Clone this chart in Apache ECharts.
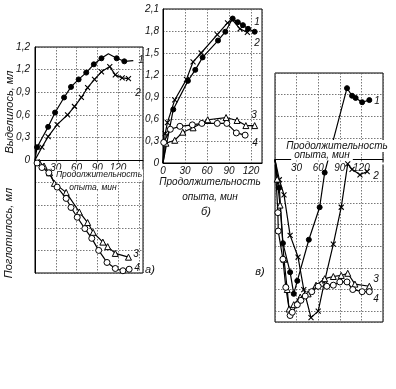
<!DOCTYPE html>
<html><head><meta charset="utf-8">
<script src="https://cdn.jsdelivr.net/npm/echarts@6/dist/echarts.min.js"></script>
<style>html,body{margin:0;padding:0;background:#fff}#c{width:396px;height:389px}</style>
</head><body><div id="c"></div>
<script>
// ---- tick labels ----
const aTimeTicks = [30, 60, 90, 120];
const bTimeTicks = [0, 30, 60, 90, 120];
const cTimeTicks = [30, 60, 90, 120];
const aYTickLabels = ['0', '0,3', '0,6', '0,9', '1,2', '1,2'];
const bYTickLabels = ['0', '0,3', '0,6', '0,9', '1,2', '1,5', '1,8', '2,1'];

// ---- panel а) : [time, ml] ----
const a1 = [[0,0],[3,0.17],[19,0.44],[29,0.63],[42,0.83],[52,0.97],[63,1.07],[74,1.16],[85,1.27],[96,1.35],[106,1.41],[118,1.35],[129,1.31],[142,1.32]];
const a1Bare = [0, 10, 13];
const a2 = [[0,0],[10,0.17],[19,0.31],[32,0.47],[47,0.6],[57,0.71],[67,0.83],[76,0.96],[86,1.07],[96,1.17],[108,1.24],[116,1.13],[126,1.09],[135,1.08]];
const a2Bare = [0];
const a3 = [[0,0],[6,-0.03],[13,-0.08],[21,-0.17],[28,-0.31],[45,-0.43],[64,-0.69],[76,-0.83],[84,-0.96],[98,-1.09],[105,-1.15],[116,-1.24],[135,-1.29]];
const a3Bare = [0];
const a4 = [[0,0],[3,-0.04],[10,-0.1],[20,-0.17],[32,-0.36],[45,-0.51],[52,-0.63],[61,-0.76],[72,-0.91],[82,-1.04],[92,-1.2],[104,-1.36],[116,-1.44],[127,-1.47],[136,-1.45]];
const a4Bare = [0];

// ---- panel б) ----
const b1 = [[0,0],[14,0.73],[34,1.12],[44,1.27],[54,1.44],[75,1.67],[85,1.79],[95,1.97],[102,1.92],[109,1.88],[116,1.83],[125,1.79]];
const b1Bare = [0];
const b2 = [[0,0],[3,0.4],[6,0.55],[16,0.86],[32,1.14],[41,1.38],[52,1.5],[74,1.75],[88,1.91],[95,1.95],[105,1.83],[115,1.78]];
const b2Bare = [0, 9];
const b3 = [[0,0],[4,0.27],[16,0.31],[27,0.42],[41,0.48],[61,0.59],[86,0.62],[101,0.58],[113,0.51],[125,0.51]];
const b3Bare = [0];
const b4 = [[0,0],[1,0.28],[10,0.46],[23,0.5],[40,0.52],[53,0.54],[74,0.54],[87,0.54],[100,0.41],[112,0.38]];
const b4Bare = [0];

// ---- panel в) : [time, grid units] ----
const c1 = [[0,0],[6,-1.3],[11,-3.86],[21,-5.2],[26,-6.2],[31,-5.6],[47,-3.7],[62,-2.2],[69,-0.6],[100,3.3],[107,2.95],[112,2.85],[121,2.65],[131,2.75]];
const c1Bare = [0];
const c2 = [[0,0],[6,-0.93],[12.5,-1.63],[21,-3.5],[32,-4.5],[40,-6.0],[50,-7.3],[60,-7.0],[69,-5.6],[81,-3.9],[92,-2.2],[101,-0.2],[107,-0.45],[118,-0.7],[128,-0.55]];
const c2Bare = [0];
const c3 = [[0,0],[3,-0.9],[7,-2.1],[12.5,-4.6],[17,-6.0],[19.5,-6.9],[26,-6.7],[35,-6.35],[46,-6.2],[57,-5.8],[69,-5.5],[81,-5.4],[92,-5.35],[101,-5.25],[111,-5.75],[131,-5.85]];
const c3Bare = [0];
const c4 = [[0,0],[4,-2.45],[4.5,-3.3],[11,-4.6],[15,-5.9],[21,-7.2],[24,-7.05],[31,-6.7],[36,-6.5],[42,-6.3],[51,-6.1],[60,-5.85],[72,-5.85],[81,-5.8],[90,-5.65],[100,-5.65],[108,-6.0],[121,-6.1],[131,-6.1]];
const c4Bare = [0];

const FONT = '"Liberation Sans", "DejaVu Sans", sans-serif';
const split = { show: true, lineStyle: { color: '#555', width: 0.8, type: [1.5, 1.5] } };
const lblStyle = { fontStyle: 'italic', fontSize: 10, color: '#111', fontFamily: FONT };

const CROSS = 'path://M0,0L10,10M10,0L0,10';
const marks = {
  dot:   { symbol: 'circle',   size: 5, item: { color: '#000', borderColor: '#000', borderWidth: 1 } },
  cross: { symbol: CROSS,      size: 5, item: { color: '#000', borderColor: '#000', borderWidth: 1.1 } },
  tri:   { symbol: 'triangle', size: 6, item: { color: '#fff', borderColor: '#000', borderWidth: 1 } },
  ring:  { symbol: 'circle',   size: 6, item: { color: '#fff', borderColor: '#000', borderWidth: 1 } }
};

function ser(data, bare, kind, gi) {
  const m = marks[kind];
  return {
    type: 'line', xAxisIndex: gi, yAxisIndex: gi, data: data,
    symbol: (v, p) => bare.includes(p.dataIndex) ? 'none' : m.symbol,
    symbolSize: m.size, showAllSymbol: true,
    itemStyle: m.item,
    lineStyle: { color: '#000', width: 1.2 },
    emphasis: { disabled: true }, z: 3, animation: false
  };
}

// grids (pixel boxes)
const G = [
  { left: 35, top: 47, width: 108, height: 226 },
  { left: 163, top: 9, width: 99, height: 154 },
  { left: 275, top: 73, width: 108, height: 249 }
];
const yRange = [[-1.5, 1.5], [0, 2.1], [-7.5, 4]];
// distance from bottom of each grid up to its zero line
function zeroOffset(i) {
  const r = yRange[i];
  return -G[i].height * (0 - r[0]) / (r[1] - r[0]);
}

function xAx(gi, max, ticks, labelOpts) {
  return {
    type: 'value', gridIndex: gi, min: 0, max: max, interval: 30,
    position: 'bottom', offset: zeroOffset(gi),
    axisLine: { show: true, onZero: false, lineStyle: { color: '#000', width: 1 } },
    axisTick: { show: false },
    splitLine: split,
    axisLabel: Object.assign({
      show: true, margin: 3, ...lblStyle,
      formatter: v => ticks.includes(v) ? String(v) : ''
    }, labelOpts || {})
  };
}

const chart = echarts.init(document.getElementById('c'), null, { renderer: 'canvas' });
chart.setOption({
  backgroundColor: '#fff',
  animation: false,
  grid: G.map(g => Object.assign({ show: true, borderColor: '#000', borderWidth: 1, backgroundColor: 'transparent' }, g)),
  xAxis: [
    xAx(0, 156, aTimeTicks, { backgroundColor: '#fff', padding: [0, 1] }),
    xAx(1, 135, bTimeTicks),
    xAx(2, 150, cTimeTicks, { backgroundColor: '#fff', padding: [1, 1] })
  ],
  yAxis: [
    { type: 'value', gridIndex: 0, min: yRange[0][0], max: yRange[0][1], interval: 0.3,
      axisLine: { show: true, lineStyle: { color: '#000' } }, axisTick: { show: false }, splitLine: split,
      axisLabel: { margin: 5, ...lblStyle, formatter: v => v < -1e-6 ? '' : (aYTickLabels[Math.round(v / 0.3)] || '') } },
    { type: 'value', gridIndex: 1, min: yRange[1][0], max: yRange[1][1], interval: 0.3,
      axisLine: { show: true, lineStyle: { color: '#000' } }, axisTick: { show: false }, splitLine: split,
      axisLabel: { margin: 4, ...lblStyle, formatter: v => bYTickLabels[Math.round(v / 0.3)] || '' } },
    { type: 'value', gridIndex: 2, min: yRange[2][0], max: yRange[2][1], splitNumber: 11,
      axisLine: { show: false }, axisTick: { show: false }, splitLine: split,
      axisLabel: { show: false } }
  ],
  series: [
    ser(a1, a1Bare, 'dot', 0), ser(a2, a2Bare, 'cross', 0), ser(a3, a3Bare, 'tri', 0), ser(a4, a4Bare, 'ring', 0),
    ser(b1, b1Bare, 'dot', 1), ser(b2, b2Bare, 'cross', 1), ser(b3, b3Bare, 'tri', 1), ser(b4, b4Bare, 'ring', 1),
    ser(c1, c1Bare, 'dot', 2), ser(c2, c2Bare, 'cross', 2), ser(c3, c3Bare, 'tri', 2), ser(c4, c4Bare, 'ring', 2)
  ],
  graphic: (function () {
    const g = [];
    function t(text, x, y, opts) {
      g.push(Object.assign({
        type: 'text', x: x, y: y, z: 100,
        style: Object.assign({ text: text, fill: '#111', font: 'italic 10px ' + FONT, align: 'center', verticalAlign: 'middle' }, (opts && opts.style) || {})
      }, (opts && opts.el) || {}));
    }
    const small = { backgroundColor: '#fff', padding: [1, 1], font: 'italic 8.5px ' + FONT };
    // axis names, panel а
    t('Выделилось, мл', 10, 112, { el: { rotation: Math.PI / 2 }, style: { font: 'italic 11px ' + FONT } });
    t('Поглотилось, мл', 9, 233, { el: { rotation: Math.PI / 2 }, style: { font: 'italic 11px ' + FONT } });
    t('Продолжительность', 99, 175, { style: small });
    t('опыта, мин', 93, 188, { style: small });
    // panel б
    t('Продолжительность', 210, 182);
    t('опыта, мин', 210, 197);
    t('б)', 206, 212, { style: { font: 'italic 11px ' + FONT } });
    // panel в
    t('Продолжительность', 337, 146, { style: { backgroundColor: '#fff', padding: [2, 3, 0, 3] } });
    t('опыта, мин', 322, 155, { style: { backgroundColor: '#fff', padding: [0, 3, 1, 3] } });
    t('в)', 260, 272, { style: { font: 'italic 11px ' + FONT } });
    t('а)', 150, 270, { style: { font: 'italic 11px ' + FONT } });
    // curve numbers
    [['1',141,60],['2',138,93],['3',136,254],['4',137,268],
     ['1',257,22],['2',257,43],['3',254,115],['4',255,143],
     ['1',377,101],['2',376,176],['3',376,279],['4',376,299]].forEach(a => t(a[0], a[1], a[2]));
    return g;
  })()
});
</script></body></html>
